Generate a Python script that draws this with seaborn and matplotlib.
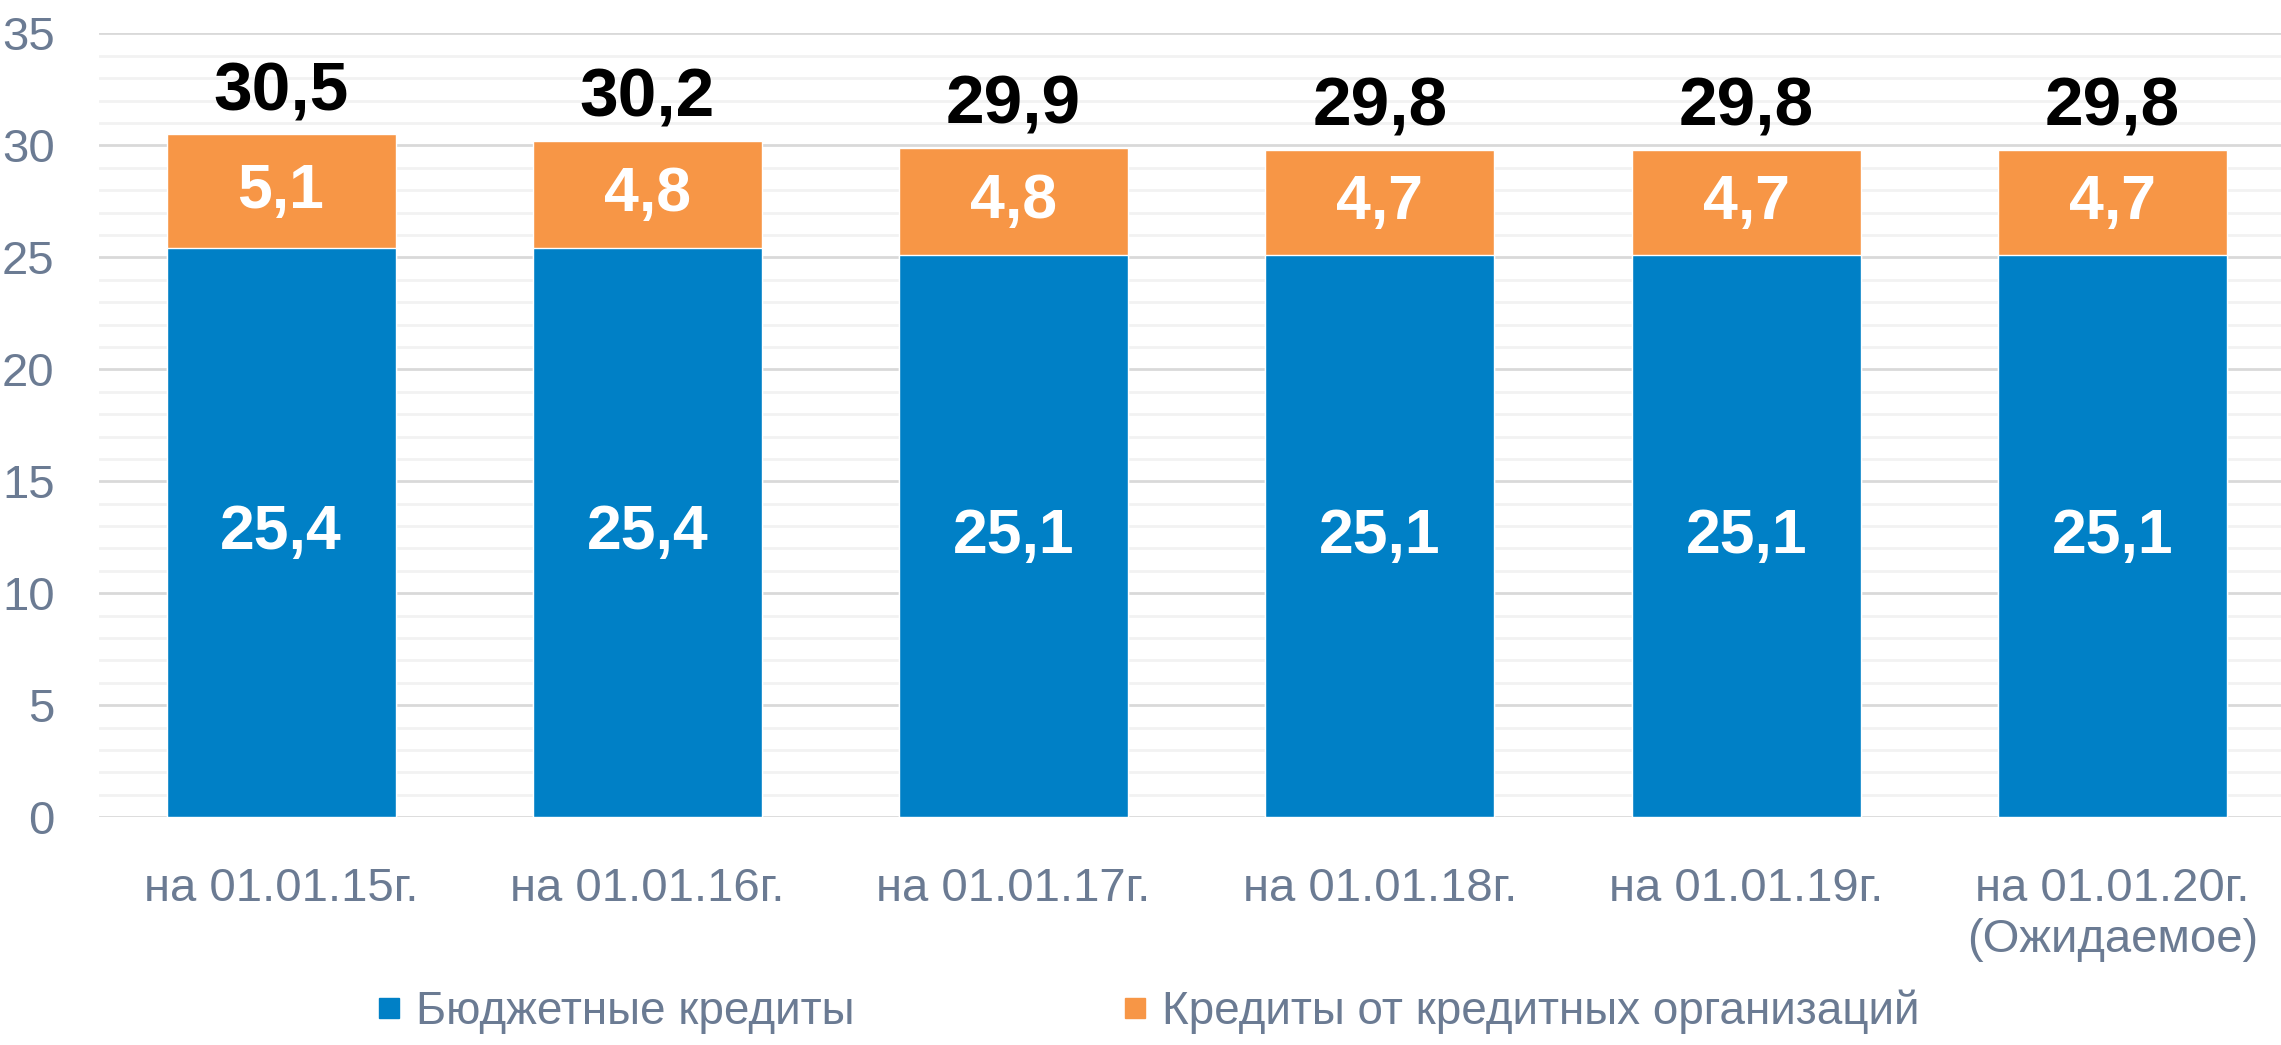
import numpy as np
import pandas as pd
import seaborn as sns
import matplotlib.pyplot as plt
from matplotlib.lines import Line2D

# data
categories = ["на 01.01.15г.", "на 01.01.16г.", "на 01.01.17г.",
              "на 01.01.18г.", "на 01.01.19г.", "на 01.01.20г.\n(Ожидаемое)"]
budget_credits = [25.4, 25.4, 25.1, 25.1, 25.1, 25.1]
bank_credits = [5.1, 4.8, 4.8, 4.7, 4.7, 4.7]
totals = [30.5, 30.2, 29.9, 29.8, 29.8, 29.8]
series_names = ["Бюджетные кредиты", "Кредиты от кредитных организаций"]

BLUE = "#0080C6"
ORANGE = "#F79646"
GREY_TXT = "#6B7B93"

df = pd.DataFrame({"cat": categories, "budget": budget_credits, "bank": bank_credits})
df["top"] = df["budget"] + df["bank"]

sns.set_theme(style="white")
plt.rcParams["font.family"] = ["Liberation Sans", "DejaVu Sans"]

fig = plt.figure(figsize=(22.81, 10.45), dpi=100)
ax = fig.add_axes([0.0434, 0.218, 0.9566, 0.75])

# stacked: draw the full height in orange, then blue over it
sns.barplot(data=df, x="cat", y="top", color=ORANGE, width=0.625, saturation=1, ax=ax, zorder=3)
sns.barplot(data=df, x="cat", y="budget", color=BLUE, width=0.625, saturation=1, ax=ax, zorder=3)

for i in range(len(categories)):
    b = budget_credits[i]
    o = bank_credits[i]
    ax.text(i, b / 2, f"{b:.1f}".replace(".", ","), ha="center", va="center",
            color="white", fontsize=45, fontweight="bold", zorder=5)
    ax.text(i, b + o / 2, f"{o:.1f}".replace(".", ","), ha="center", va="center",
            color="white", fontsize=45, fontweight="bold", zorder=5)
    ax.text(i, totals[i] + 0.45, f"{totals[i]:.1f}".replace(".", ","), ha="center", va="bottom",
            color="black", fontsize=50, fontweight="bold", zorder=5)

ax.set_ylim(0, 35)
ax.set_xlim(-0.497, 5.46)
ax.set_yticks(np.arange(0, 36, 5))
ax.set_yticks(np.arange(0, 36, 1), minor=True)
ax.grid(axis="y", which="major", color="#D9D9D9", linewidth=2, zorder=0)
ax.grid(axis="y", which="minor", color="#F2F2F2", linewidth=2, zorder=0)
ax.set_axisbelow(True)
for s in ax.spines.values():
    s.set_visible(False)
ax.set_xlabel("")
ax.set_ylabel("")
ax.tick_params(axis="both", which="both", length=0, labelsize=34, labelcolor=GREY_TXT)
ax.tick_params(axis="x", pad=36)
ax.tick_params(axis="y", pad=32)
for lab in ax.get_xticklabels():
    lab.set_linespacing(1.2)

handles = [Line2D([], [], marker="s", linestyle="none", markersize=15, color=BLUE),
           Line2D([], [], marker="s", linestyle="none", markersize=15, color=ORANGE)]
fig.legend(handles, series_names, loc="center", bbox_to_anchor=(0.503, 0.032),
           ncol=2, frameon=False, fontsize=33, labelcolor=GREY_TXT,
           handletextpad=0.3, columnspacing=5.8, handlelength=0.6)

plt.savefig("out.png", dpi=100)
plt.close(fig)
